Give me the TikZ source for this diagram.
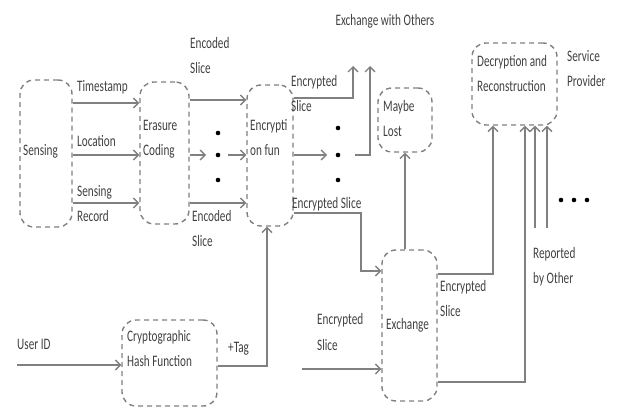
\documentclass[tikz,border=0pt]{standalone}
\usepackage{fontspec}
\setmainfont{Carlito}[FakeStretch=0.7]
\usetikzlibrary{arrows.meta}
\definecolor{lncol}{gray}{0.5}
\definecolor{txcol}{gray}{0.25}
\begin{document}
\begin{tikzpicture}[x=1pt,y=-1pt,
  box/.style={draw=lncol, line width=1.4pt, dash pattern=on 5pt off 4pt, rounded corners=14pt, inner sep=0pt},
  con/.style={draw=lncol, line width=1.4pt, -{Straight Barb[length=5pt,width=10pt]}},
  txt/.style={text=txcol, font=\fontsize{16}{25}\selectfont, inner sep=0pt, align=left},
  dotn/.style={circle, fill=black, inner sep=0pt, minimum size=4.6pt}
]
\useasboundingbox (0,0) rectangle (619,414);

% boxes
\node[box, minimum width=52pt, minimum height=147pt] (sens) at (46,153.5) {};
\node[box, minimum width=49pt, minimum height=142pt] (eras) at (164.5,153) {};
\node[box, minimum width=46pt, minimum height=141pt] (encr) at (270,155.5) {};
\node[box, minimum width=54pt, minimum height=64pt] (maybe) at (405,120) {};
\node[box, minimum width=85pt, minimum height=82pt] (dec) at (514.5,84) {};
\node[box, minimum width=55pt, minimum height=151pt] (exch) at (409.5,325.5) {};
\node[box, minimum width=95pt, minimum height=86pt] (hash) at (169.5,363) {};

% box texts
\node[txt, anchor=west] (tsens) at (23,151) {Sensing};
\node[txt, anchor=west] (teras) at (143,139) {Erasure\\Coding};
\node[txt, anchor=west] (tencr) at (250,138) {Encrypti\\on fun};
\node[txt, anchor=west] (tmaybe) at (383,119) {Maybe\\Lost};
\node[txt, anchor=west] (tdec) at (477,74) {Decryption and\\Reconstruction};
\node[txt, anchor=west] (texch) at (386,325) {Exchange};
\node[txt, anchor=west] (thash) at (127,349) {Cryptographic\\Hash Function};

% labels
\node[txt, anchor=west] (lts) at (77,87) {Timestamp};
\node[txt, anchor=west] (lloc) at (77,141) {Location};
\node[txt, anchor=west] (lrec) at (77,204) {Sensing\\Record};
\node[txt, anchor=west] (lenc1) at (190,56) {Encoded\\Slice};
\node[txt, anchor=west] (lenc2) at (192,229) {Encoded\\Slice};
\node[txt, anchor=west] (lency1) at (291,94) {Encrypted\\Slice};
\node[txt] (lexo) at (385,21) {Exchange with Others};
\node[txt, anchor=west] (lency2) at (292,204) {Encrypted Slice};
\node[txt, anchor=west] (lserv) at (567,69) {Service\\Provider};
\node[txt, anchor=west] (lrep) at (533,267) {Reported\\by Other};
\node[txt, anchor=west] (lency3) at (440,299) {Encrypted\\Slice};
\node[txt, anchor=west] (lency4) at (317,332) {Encrypted\\Slice};
\node[txt, anchor=west] (luid) at (17,344) {User ID};
\node[txt, anchor=west] (ltag) at (228,349) {+Tag};

% dots
\node[dotn] (d1) at (218,133) {};
\node[dotn] (d2) at (218,155) {};
\node[dotn] (d3) at (218,180) {};
\node[dotn] (d4) at (338,128) {};
\node[dotn] (d5) at (338,155) {};
\node[dotn] (d6) at (338,180) {};
\node[dotn] (d7) at (561,200) {};
\node[dotn] (d8) at (574,200) {};
\node[dotn] (d9) at (587,200) {};

% coordinates
\coordinate (yts) at (0,103);
\coordinate (yloc) at (0,155);
\coordinate (yrec) at (0,203);
\coordinate (yen1) at (0,100);
\coordinate (yen2) at (0,203);
\coordinate (yes1) at (0,98);
\coordinate (up1) at (353,66);
\coordinate (up2) at (370,66);
\coordinate (yes3) at (0,213);
\coordinate (c3) at (361,271);
\coordinate (uid) at (17,365);
\coordinate (tagx) at (267,366);
\coordinate (inx) at (302,369);
\coordinate (ex1) at (493,274);
\coordinate (ex2) at (525,382);
\coordinate (rep1) at (535,228);
\coordinate (rep2) at (547,228);

% connectors left
\draw[con] (sens.east |- yts) -- (eras.west |- yts);
\draw[con] (sens.east |- yloc) -- (eras.west |- yloc);
\draw[con] (sens.east |- yrec) -- (eras.west |- yrec);
\draw[con] (eras.east |- yen1) -- (encr.west |- yen1);
\draw[con] (eras.east |- d2) -- ([xshift=-12pt]d2.center);
\draw[con] ([xshift=10pt]d2.center) -- (encr.west |- d2);
\draw[con] (eras.east |- yen2) -- (encr.west |- yen2);

% connectors right of encryption
\draw[con] (encr.east |- yes1) -- (up1 |- yes1) -- (up1);
\draw[con] (encr.east |- d5) -- ([xshift=-11pt]d5.center);
\draw[con] ([xshift=17pt]d5.center) -- (up2 |- d5) -- (up2);
\draw[con] (encr.east |- yes3) -- (c3 |- yes3) -- (c3) -- (exch.west |- c3);

% hash
\draw[con] (uid) -- (hash.west |- uid);
\draw[con] (hash.east |- tagx) -- (tagx) -- (tagx |- encr.south);

% exchange
\draw[con] (inx) -- (exch.west |- inx);
\draw[con] (maybe.south |- exch.north) -- (maybe.south);
\draw[con] (exch.east |- ex1) -- (ex1) -- (ex1 |- dec.south);
\draw[con] (exch.east |- ex2) -- (ex2) -- (ex2 |- dec.south);
\draw[con] (rep1) -- (rep1 |- dec.south);
\draw[con] (rep2) -- (rep2 |- dec.south);
\end{tikzpicture}
\end{document}
